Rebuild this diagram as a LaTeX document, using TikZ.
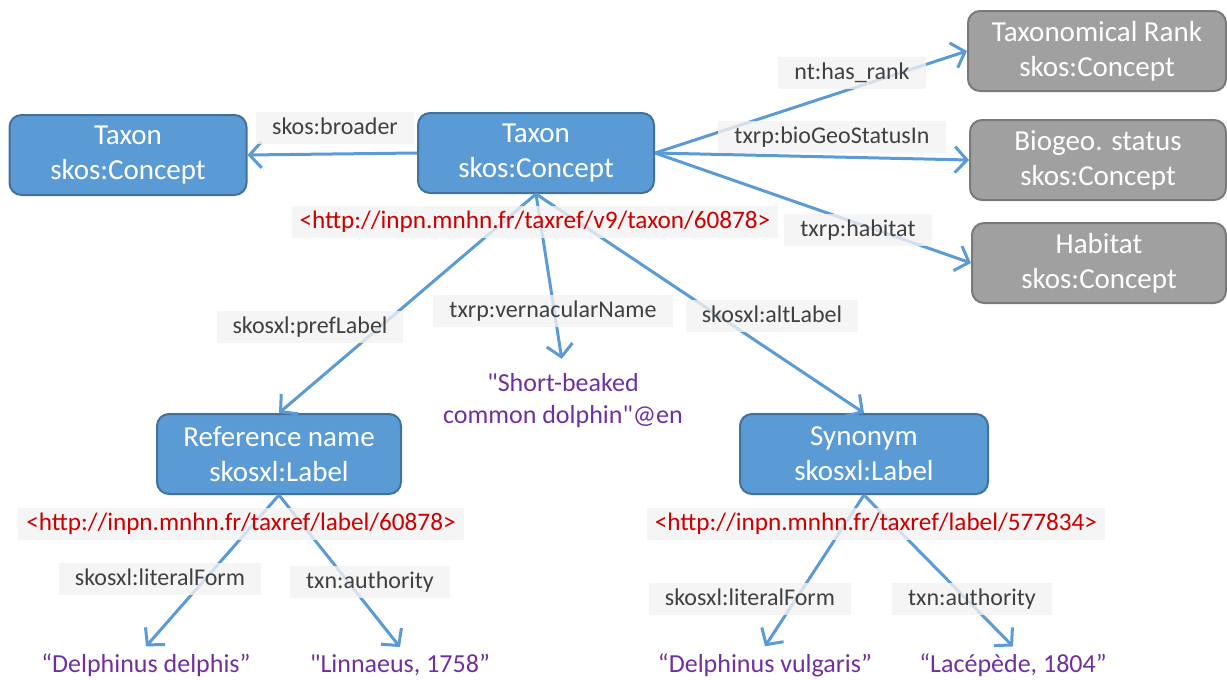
\documentclass[tikz,border=0pt]{standalone}
\usepackage{fontspec}
\setmainfont{Carlito}
\usetikzlibrary{arrows.meta}
\definecolor{officeblue}{HTML}{5B9BD5}
\definecolor{blueedge}{HTML}{41719C}
\definecolor{graybox}{HTML}{A0A0A0}
\definecolor{grayedge}{HTML}{7A7A7A}
\definecolor{labelbg}{HTML}{F2F2F2}
\definecolor{urired}{HTML}{CC0000}
\definecolor{litpurple}{HTML}{7030A0}
\def\relarrow{\draw[rel]}

\begin{document}
\begin{tikzpicture}[x=0.5pt,y=-0.5pt,
  concept/.style={draw=blueedge,fill=officeblue,line width=1pt,rounded corners=6pt,
    text=white,align=center,minimum height=40pt,font=\fontsize{14.5}{17.5}\selectfont},
  extconcept/.style={concept,draw=grayedge,fill=graybox},
  prop/.style={fill=labelbg,fill opacity=0.8,text opacity=1,text=black!75,
    font=\fontsize{12}{14}\selectfont,inner xsep=8pt,inner ysep=2pt,text height=9pt,text depth=3pt},
  uri/.style={prop,text=urired,font=\fontsize{12.6}{14}\selectfont,inner xsep=4pt},
  literal/.style={text=litpurple,align=center,font=\fontsize{13}{16}\selectfont},
  rel/.style={draw=officeblue,line width=1.5pt,-{Straight Barb[length=6pt,width=13pt]}}]
\useasboundingbox (0,0) rectangle (1227,680);
% concepts
\node[concept,minimum width=118.5pt] (broader) at (128,155) {Taxon\\skos:Concept};
\node[concept,minimum width=118pt] (taxon) at (536,153) {Taxon\\skos:Concept};
\node[extconcept,minimum width=129pt] (rank) at (1097,51) {Taxonomical Rank\\skos:Concept};
\node[extconcept,minimum width=128pt] (biogeo) at (1098,160) {Biogeo. status\\skos:Concept};
\node[extconcept,minimum width=127pt] (habitat) at (1099,263) {Habitat\\skos:Concept};
\node[concept,minimum width=122pt] (refname) at (279,454) {Reference name\\skosxl:Label};
\node[concept,minimum width=124pt] (synonym) at (864,454) {Synonym\\skosxl:Label};
% literals
\node[literal] (vernacular) at (563,401) {\textquotedbl Short-beaked\\common dolphin\textquotedbl @en};
\node[literal] (delphis) at (146,665) {“Delphinus delphis”};
\node[literal] (linnaeus) at (400,665) {\textquotedbl Linnaeus, 1758”};
\node[literal] (vulgaris) at (765,665) {“Delphinus vulgaris”};
\node[literal] (lacepede) at (1013,665) {“Lacépède, 1804”};
% relations
\relarrow (taxon.west) -- (broader.east);
\relarrow (taxon.east) -- (rank.west);
\relarrow (taxon.east) -- (biogeo.west);
\relarrow (taxon.east) -- (habitat.west);
\relarrow (taxon.south) -- (refname.north);
\relarrow[shorten >=4pt] (taxon.south) -- (vernacular.north);
\relarrow (taxon.south) -- (synonym.north);
\relarrow (refname.south) -- (delphis.north);
\relarrow (refname.south) -- (linnaeus.north);
\relarrow (synonym.south) -- (vulgaris.north);
\relarrow (synonym.south) -- (lacepede.north);
% property labels
\node[prop] (pbroader) at (335,128) {skos:broader};
\node[prop] (prank) at (852,73) {nt:has\_rank};
\node[prop] (pbiogeo) at (832,137) {txrp:bioGeoStatusIn};
\node[prop] (phabitat) at (858,230) {txrp:habitat};
\node[uri] (utaxon) at (535,222) {<http://inpn.mnhn.fr/taxref/v9/taxon/60878>};
\node[prop] (ppref) at (310,327) {skosxl:prefLabel};
\node[prop] (pvern) at (553,311) {txrp:vernacularName};
\node[prop] (palt) at (772,316) {skosxl:altLabel};
\node[uri] (uref) at (241,524) {<http://inpn.mnhn.fr/taxref/label/60878>};
\node[prop] (plitref) at (160,579) {skosxl:literalForm};
\node[prop] (pauthref) at (370,582) {txn:authority};
\node[uri] (usyn) at (876,524) {<http://inpn.mnhn.fr/taxref/label/577834>};
\node[prop] (plitsyn) at (750,599) {skosxl:literalForm};
\node[prop] (pauthsyn) at (972,599) {txn:authority};
\end{tikzpicture}
\end{document}
